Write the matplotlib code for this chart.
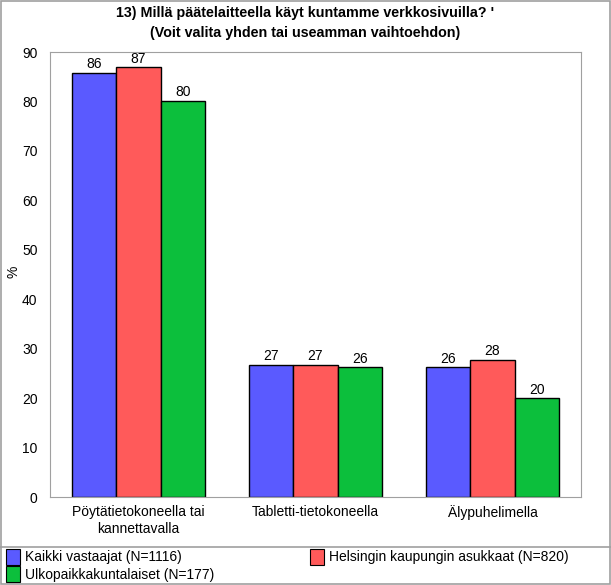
import numpy as np
import matplotlib.pyplot as plt
from matplotlib.patches import Rectangle
from matplotlib.lines import Line2D

plt.rcParams['font.family'] = ['Liberation Sans', 'DejaVu Sans']

# categories and series
categories = ['Pöytätietokoneella tai\nkannettavalla', 'Tabletti-tietokoneella', 'Älypuhelimella']
kaikki = [85.8, 26.8, 26.2]
helsinki = [86.9, 26.8, 27.8]
ulkopaikka = [80.2, 26.2, 20.0]
series_names = ['Kaikki vastaajat (N=1116)', 'Helsingin kaupungin asukkaat (N=820)',
                'Ulkopaikkakuntalaiset (N=177)']
colors = ['#5A5AFF', '#FF5A5A', '#0CBF3C']

fig = plt.figure(figsize=(6.11, 5.85), dpi=100)
ax = fig.add_axes([0.0818, 0.1504, 0.8692, 0.7606])

ind = np.arange(len(categories))
width = 0.25
for i, (vals, c) in enumerate(zip([kaikki, helsinki, ulkopaikka], colors)):
    bars = ax.bar(ind + (i - 1) * width, vals, width, color=c, edgecolor='black',
                  linewidth=1.0, label=series_names[i])
    ax.bar_label(bars, labels=['%.0f' % v for v in vals], padding=1, fontsize=10)

ax.set_xlim(-0.5, 2.5)
ax.set_ylim(0, 90)
ax.set_yticks(range(0, 91, 10))
ax.set_xticks(ind)
ax.set_xticklabels(categories, fontsize=10)
ax.tick_params(axis='x', length=0, labelsize=10, pad=6)
ax.tick_params(axis='y', length=0, labelsize=10, pad=9)
for s in ax.spines.values():
    s.set_color('#A0A0A0')
fig.text(14 / 611, 1 - 272 / 585, '%', rotation=90, ha='center', va='center', fontsize=10)

fig.text(0.5, 1 - 6 / 585, "13) Millä päätelaitteella käyt kuntamme verkkosivuilla? '\n"
         "(Voit valita yhden tai useamman vaihtoehdon)",
         ha='center', va='top', fontsize=10.3, fontweight='bold', linespacing=1.5)

# outer border and legend separator
fig.add_artist(Rectangle((0.001, 0.001), 0.998, 0.998, transform=fig.transFigure,
                         fill=False, edgecolor='#A0A0A0', linewidth=1.2))
fig.add_artist(Line2D([0, 1], [1 - 547 / 585] * 2, transform=fig.transFigure,
                      color='#A0A0A0', linewidth=1.2))

# legend drawn as boxes + text
positions = [(6, 549), (310, 549), (6, 566)]
for (name, c), (px, py) in zip(zip(series_names, colors), positions):
    fig.add_artist(Rectangle((px / 611, 1 - (py + 16) / 585), 14 / 611, 16 / 585,
                             transform=fig.transFigure, facecolor=c,
                             edgecolor='black', linewidth=0.8))
    fig.text((px + 19) / 611, 1 - (py + 8.5) / 585, name, ha='left', va='center', fontsize=10)

plt.savefig('out.png', dpi=100)
